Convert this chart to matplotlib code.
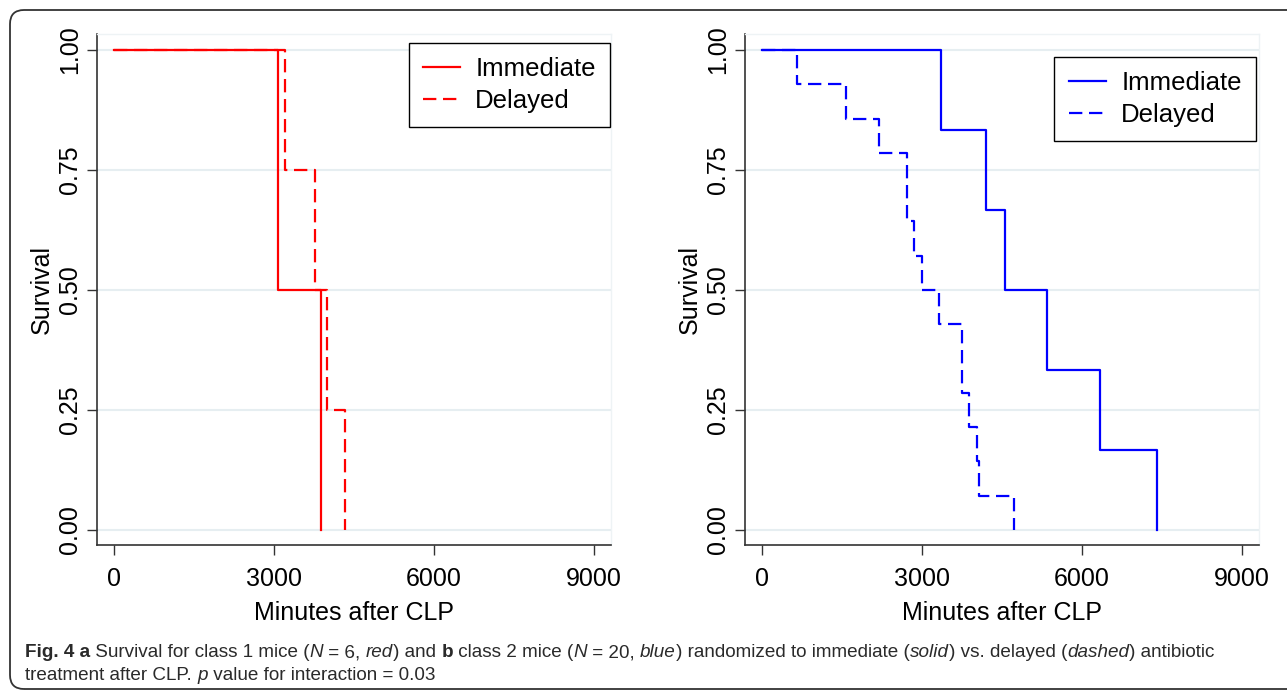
import matplotlib
matplotlib.use("Agg")
import matplotlib.pyplot as plt
from matplotlib.patches import FancyBboxPatch
from matplotlib.transforms import IdentityTransform

# -------------------------------------------------
#  Data
# -------------------------------------------------
# panel a: class 1 mice (red)
a_imm_t = [0, 3069, 3876]
a_imm_s = [1.0, 0.5, 0.0]
a_del_t = [0, 3206, 3769, 4000, 4337]
a_del_s = [1.0, 0.75, 0.5, 0.25, 0.0]

# panel b: class 2 mice (blue)
b_imm_t = [0, 3356, 4194, 4562, 5338, 6338, 7400]
b_imm_s = [1.0, 0.833, 0.667, 0.5, 0.333, 0.167, 0.0]
b_del_t = [0, 662, 1575, 2194, 2713, 2850, 3006, 3325, 3744, 3875, 4037, 4069, 4725]
b_del_s = [1.0, 0.929, 0.857, 0.786, 0.643, 0.571, 0.5, 0.429, 0.286, 0.214, 0.143, 0.071, 0.0]

xticks = [0, 3000, 6000, 9000]
yticks = [0.0, 0.25, 0.5, 0.75, 1.0]
legend_labels = ["Immediate", "Delayed"]

FONT = ["Liberation Sans", "DejaVu Sans"]
plt.rcParams["font.family"] = FONT

W, H = 1287, 693
fig = plt.figure(figsize=(W / 100, H / 100), dpi=100)

def px_axes(x0, x1, ytop, ybot):
    return fig.add_axes([x0 / W, 1 - ybot / H, (x1 - x0) / W, (ybot - ytop) / H])

def style_axes(ax):
    ax.set_xlim(-319, 9319)
    ax.set_ylim(-0.03125, 1.0333)
    ax.set_xticks(xticks)
    ax.set_yticks(yticks)
    ax.set_yticklabels(["%.2f" % v for v in yticks], rotation=90, va="center")
    ax.tick_params(direction="out", length=7, width=1, color="#333333",
                   labelsize=18)
    ax.tick_params(axis="x", pad=9)
    ax.tick_params(axis="y", pad=4)
    ax.grid(axis="y", color="#e6eef1", lw=1.5)
    ax.set_axisbelow(True)
    for s in ["left", "bottom"]:
        ax.spines[s].set_color("#333333")
        ax.spines[s].set_linewidth(1.2)
    for s in ["top", "right"]:
        ax.spines[s].set_color("#eef3f5")
        ax.spines[s].set_linewidth(1.0)
    ax.set_xlabel("Minutes after CLP", fontsize=18, labelpad=7)
    ax.set_ylabel("Survival", fontsize=18, labelpad=3)

def km_panel(ax, t1, s1, t2, s2, color, anchor):
    ax.step(t1, s1, where="post", color=color, lw=1.6, label=legend_labels[0])
    ax.step(t2, s2, where="post", color=color, lw=1.6, dashes=(6, 3),
            label=legend_labels[1])
    style_axes(ax)
    leg = ax.legend(loc="upper right", bbox_to_anchor=anchor, borderaxespad=0,
                    fontsize=18.5, fancybox=False, framealpha=1, edgecolor="black",
                    handlelength=1.45, handletextpad=0.6, labelspacing=0.3,
                    borderpad=0.55)
    leg.get_frame().set_linewidth(1.0)

axA = px_axes(97, 611, 34, 545)
km_panel(axA, a_imm_t, a_imm_s, a_del_t, a_del_s, "#ff0000", (0.998, 0.982))

axB = px_axes(745, 1259, 34, 545)
km_panel(axB, b_imm_t, b_imm_s, b_del_t, b_del_s, "#0000ff", (0.994, 0.955))

# rounded frame around the figure (runs off right and bottom edge)
frame = FancyBboxPatch((10, 4), 1320, 679, boxstyle="round,pad=0,rounding_size=14",
                       transform=IdentityTransform(), fill=False,
                       edgecolor="#333333", lw=1.3)
fig.patches.append(frame)

# -------------------------------------------------
#  Caption with mixed bold / italic pieces
# -------------------------------------------------
CAP = ["Liberation Sans", "DejaVu Sans"]
CAP_SIZE = 13.6
renderer = fig.canvas.get_renderer()

def piece_width(s, weight, style):
    t1 = fig.text(0, 0, "|" + s + "|", fontsize=CAP_SIZE, family=CAP,
                  weight=weight, style=style)
    t2 = fig.text(0, 0, "||", fontsize=CAP_SIZE, family=CAP,
                  weight=weight, style=style)
    w = t1.get_window_extent(renderer).width - t2.get_window_extent(renderer).width
    t1.remove()
    t2.remove()
    return w

def caption_line(pieces, x, y):
    for s, weight, style in pieces:
        fig.text(x / W, 1 - y / H, s, fontsize=CAP_SIZE, family=CAP,
                 weight=weight, style=style, color="#2a2a2a", va="baseline")
        x += piece_width(s, weight, style)

N, B, I = "normal", "bold", "italic"
line1 = [("Fig. 4 a", B, N), (" Survival for class 1 mice (", N, N), ("N", N, I),
         (" = 6, ", N, N), ("red", N, I), (") and ", N, N), ("b", B, N),
         (" class 2 mice (", N, N), ("N", N, I), (" = 20, ", N, N), ("blue", N, I),
         (") randomized to immediate (", N, N), ("solid", N, I),
         (") vs. delayed (", N, N), ("dashed", N, I), (") antibiotic", N, N)]
line2 = [("treatment after CLP. ", N, N), ("p", N, I),
         (" value for interaction = 0.03", N, N)]
caption_line(line1, 25, 657)
caption_line(line2, 25, 680)

fig.savefig("out.png", dpi=100)
